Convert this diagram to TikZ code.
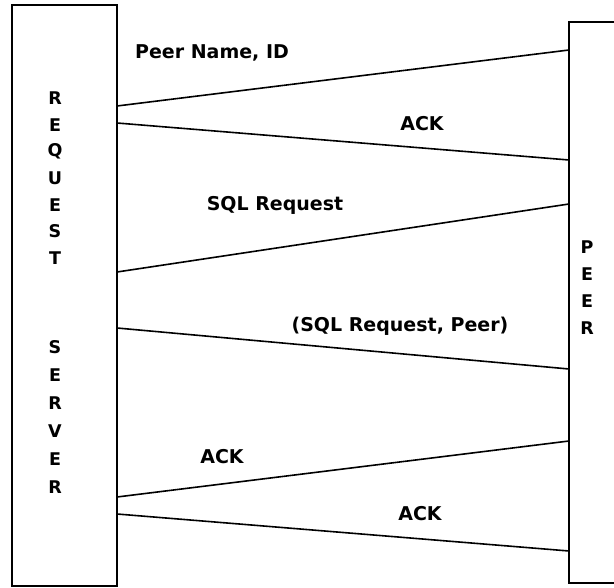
\documentclass[tikz,border=0pt]{standalone}
\usepackage{fontspec}
\setmainfont{DejaVu Sans}
\begin{document}
\begin{tikzpicture}[x=1pt,y=-1pt,
  box/.style={draw, line width=1.6pt, inner sep=0pt, outer sep=0pt},
  msg/.style={line width=1.6pt},
  lbl/.style={font=\fontsize{19}{20}\selectfont\bfseries, inner sep=0pt},
  vlet/.style={font=\fontsize{17.5}{19}\selectfont\bfseries, inner sep=0pt}]
\useasboundingbox (0,0) rectangle (614,588);

% the two participants
\node[box, minimum width=105pt, minimum height=581pt] (server) at (64.5,295.5) {};
\node[box, minimum width=70pt, minimum height=561pt, anchor=north west] (peer) at (569,22) {};

% vertical captions
\foreach \c [count=\i] in {R,E,Q,U,E,S,T}
  \node[vlet] (rq\i) at (55,{98+26.7*(\i-1)}) {\c};
\foreach \c [count=\i] in {S,E,R,V,E,R}
  \node[vlet] (sv\i) at (55,{347+28*(\i-1)}) {\c};
\foreach \c [count=\i] in {P,E,E,R}
  \node[vlet] (pr\i) at (587,{247+27*(\i-1)}) {\c};

% message lines between the boxes
\draw[msg] (server.east |- 0,106) -- (peer.west |- 0,50);
\draw[msg] (server.east |- 0,123) -- (peer.west |- 0,160);
\draw[msg] (server.east |- 0,272) -- (peer.west |- 0,204);
\draw[msg] (server.east |- 0,328) -- (peer.west |- 0,369);
\draw[msg] (server.east |- 0,497) -- (peer.west |- 0,441);
\draw[msg] (server.east |- 0,514) -- (peer.west |- 0,551);

% message labels
\node[lbl] (m1) at (212,53) {Peer Name, ID};
\node[lbl] (m2) at (422,124) {ACK};
\node[lbl] (m3) at (275,205) {SQL Request};
\node[lbl] (m4) at (400,326) {(SQL Request, Peer)};
\node[lbl] (m5) at (222,457) {ACK};
\node[lbl] (m6) at (420,514) {ACK};
\end{tikzpicture}
\end{document}
